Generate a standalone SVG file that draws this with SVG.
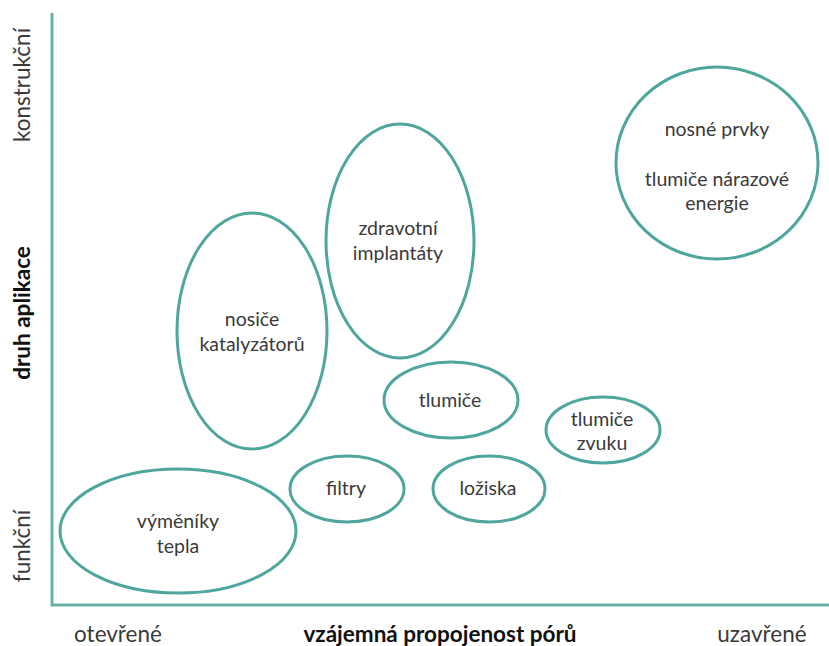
<svg xmlns="http://www.w3.org/2000/svg" width="829" height="646" viewBox="0 0 829 646">
  <style>
    .blob { fill: none; stroke: #4fa69c; stroke-width: 3; }
    .axis { stroke: #66b2a9; stroke-width: 3; fill: none; }
    .lbl { font-family: Lato, "Open Sans", "Liberation Sans", sans-serif; font-size: 19.5px; fill: #3a3a3a; text-anchor: middle; }
    .ax { font-family: Lato, "Open Sans", "Liberation Sans", sans-serif; font-size: 22.5px; fill: #3a3a3a; text-anchor: middle; }
    .axb { font-weight: bold; fill: #111; }
  </style>
  <rect width="829" height="646" fill="#ffffff"/>

  <!-- axes -->
  <g id="axes">
    <path class="axis" d="M52,13 V605 H829"/>
    <text class="ax" transform="translate(30,85) rotate(-90)">konstrukční</text>
    <text class="ax axb" transform="translate(30,313) rotate(-90)">druh aplikace</text>
    <text class="ax" transform="translate(30,546) rotate(-90)">funkční</text>
    <text class="ax" x="118" y="642">otevřené</text>
    <text class="ax axb" x="440" y="642">vzájemná propojenost pórů</text>
    <text class="ax" x="762" y="642">uzavřené</text>
  </g>

  <g id="vymeniky">
    <ellipse class="blob" cx="178" cy="531" rx="118" ry="62"/>
    <text class="lbl" x="178" y="528">výměníky</text>
    <text class="lbl" x="178" y="553">tepla</text>
  </g>

  <g id="nosice">
    <ellipse class="blob" cx="252" cy="331" rx="75" ry="118"/>
    <text class="lbl" x="252" y="326">nosiče</text>
    <text class="lbl" x="252" y="351">katalyzátorů</text>
  </g>

  <g id="implantaty">
    <ellipse class="blob" cx="400" cy="241" rx="74" ry="117"/>
    <text class="lbl" x="398" y="235">zdravotní</text>
    <text class="lbl" x="398" y="260">implantáty</text>
  </g>

  <g id="tlumice">
    <ellipse class="blob" cx="451" cy="400" rx="67" ry="38"/>
    <text class="lbl" x="450" y="407">tlumiče</text>
  </g>

  <g id="filtry">
    <ellipse class="blob" cx="347" cy="489" rx="57" ry="33"/>
    <text class="lbl" x="346" y="495">filtry</text>
  </g>

  <g id="loziska">
    <ellipse class="blob" cx="489" cy="489" rx="56" ry="33"/>
    <text class="lbl" x="488" y="495">ložiska</text>
  </g>

  <g id="tlumice-zvuku">
    <ellipse class="blob" cx="603" cy="430" rx="57" ry="33"/>
    <text class="lbl" x="602" y="426">tlumiče</text>
    <text class="lbl" x="602" y="450">zvuku</text>
  </g>

  <g id="nosne-prvky">
    <ellipse class="blob" cx="717" cy="163" rx="101" ry="96"/>
    <text class="lbl" x="717" y="136">nosné prvky</text>
    <text class="lbl" x="717" y="186">tlumiče nárazové</text>
    <text class="lbl" x="717" y="210">energie</text>
  </g>

  <!-- no connectors in this chart -->
  <g id="connectors"/>
</svg>
